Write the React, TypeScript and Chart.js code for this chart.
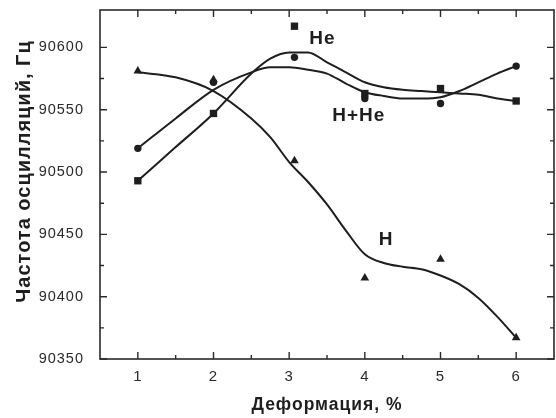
import { useEffect, useRef } from "react";
import { Chart, registerables } from "chart.js";

Chart.register(...registerables);

// Measured points (x = deformation, %)
const pointX = [1, 2, 3.07, 4, 5, 6];
const heValues = [90493, 90547, 90617, 90563, 90567, 90557];
const hHeValues = [90519, 90572, 90592, 90559, 90555, 90585];
const hValues = [90581, 90574, 90509, 90415, 90430, 90367];

// Smooth fitted curves
const curveX = [1, 1.5, 2, 2.5, 2.75, 3, 3.25, 3.5, 3.75, 4, 4.25, 4.5, 4.75, 5, 5.25, 5.5, 5.75, 6];
const heCurve = [90493, 90520, 90547, 90579, 90591, 90596, 90596, 90588, 90580, 90572, 90568, 90566, 90565, 90564, 90563, 90562, 90559, 90557];
const hHeCurve = [90519, 90543, 90566, 90580, 90584, 90584, 90582, 90579, 90571, 90564, 90561, 90559, 90559, 90560, 90565, 90572, 90579, 90585];
const hCurve = [90580, 90576, 90565, 90543, 90528, 90508, 90492, 90474, 90453, 90434, 90427, 90424, 90422, 90417, 90410, 90399, 90384, 90367];

// Axes
const xTicks = [1, 2, 3, 4, 5, 6];
const xMinorTicks = [1.5, 2.5, 3.5, 4.5, 5.5];
const yTicks = [90350, 90400, 90450, 90500, 90550, 90600];
const yMinorTicks = [90375, 90425, 90475, 90525, 90575];

// In-plot series labels (data coordinates)
const seriesLabels = ["He", "H+He", "H"];
const labelX = [3.44, 3.92, 4.28];
const labelY = [90607, 90545, 90446];

const xTitle = "Деформация, %";
const yTitle = "Частота осцилляций, Гц";

const INK = "#1e1e1e";
const FONT = "'Liberation Sans', Arial, Helvetica, sans-serif";

const framePlugin = {
  id: "frame",
  beforeDraw(chart: any) {
    chart.ctx.letterSpacing = "1px";
  },
  afterDraw(chart: any) {
    const { ctx, chartArea: a, scales } = chart;
    const xs = scales.x;
    const ys = scales.y;
    ctx.save();
    ctx.strokeStyle = "#2a2a2a";
    ctx.lineWidth = 1.6;
    ctx.strokeRect(a.left, a.top, a.right - a.left, a.bottom - a.top);
    ctx.beginPath();
    const xt = (vals: number[], len: number) =>
      vals.forEach((v) => {
        const p = xs.getPixelForValue(v);
        ctx.moveTo(p, a.bottom);
        ctx.lineTo(p, a.bottom - len);
        ctx.moveTo(p, a.top);
        ctx.lineTo(p, a.top + len);
      });
    const yt = (vals: number[], len: number) =>
      vals.forEach((v) => {
        const p = ys.getPixelForValue(v);
        ctx.moveTo(a.left, p);
        ctx.lineTo(a.left + len, p);
        ctx.moveTo(a.right, p);
        ctx.lineTo(a.right - len, p);
      });
    xt(xTicks, 7);
    xt(xMinorTicks, 4);
    yt(yTicks, 7);
    yt(yMinorTicks, 4);
    ctx.lineWidth = 1.4;
    ctx.stroke();

    // series labels
    ctx.fillStyle = INK;
    ctx.font = `bold 19px ${FONT}`;
    ctx.textAlign = "center";
    ctx.textBaseline = "middle";
    seriesLabels.forEach((t, i) => {
      ctx.fillText(t, xs.getPixelForValue(labelX[i]), ys.getPixelForValue(labelY[i]));
    });

    // y axis title
    ctx.translate(24, (a.top + a.bottom) / 2 - 13);
    ctx.rotate(-Math.PI / 2);
    ctx.font = `bold 20px ${FONT}`;
    ctx.fillText(yTitle, 0, 0);
    ctx.restore();
  },
};

const noPad = (s: any) => {
  s.paddingTop = 0;
  s.paddingBottom = 0;
  s.paddingLeft = 0;
  s.paddingRight = 0;
};

export default function App() {
  const ref = useRef<HTMLCanvasElement | null>(null);
  useEffect(() => {
    if (!ref.current) return;
    const mk = (xv: number[], yv: number[]) => xv.map((x, i) => ({ x, y: yv[i] }));
    const curve = (yv: number[]) => ({
      data: mk(curveX, yv),
      showLine: true,
      pointRadius: 0,
      borderWidth: 2,
      borderColor: INK,
      backgroundColor: INK,
      cubicInterpolationMode: "monotone" as const,
      order: 2,
    });
    const pts = (yv: number[], style: string, r: number) => ({
      data: mk(pointX, yv),
      showLine: false,
      pointStyle: style,
      pointRadius: r,
      pointBorderWidth: 0,
      borderWidth: 0,
      backgroundColor: INK,
      pointBackgroundColor: INK,
      order: 1,
    });
    const chart = new Chart(ref.current, {
      type: "scatter",
      data: {
        datasets: [
          curve(heCurve),
          curve(hHeCurve),
          curve(hCurve),
          pts(heValues, "rect", 5.2),
          pts(hHeValues, "circle", 3.7),
          pts(hValues, "triangle", 5),
        ] as any,
      },
      plugins: [framePlugin],
      options: {
        animation: false,
        responsive: false,
        devicePixelRatio: 1,
        layout: { autoPadding: false, padding: { top: 10, right: 2, left: 0, bottom: 0 } },
        plugins: { legend: { display: false }, tooltip: { enabled: false } },
        scales: {
          x: {
            type: "linear",
            min: 0.5,
            max: 6.5,
            afterBuildTicks: (s: any) => {
              s.ticks = xTicks.map((v) => ({ value: v }));
            },
            afterFit: (s: any) => {
              s.height = 59;
              noPad(s);
            },
            grid: { display: false },
            border: { display: false },
            ticks: {
              color: "#2a2a2a",
              font: { family: FONT, size: 15 },
              padding: 1,
              callback: (v: any) => String(v),
            },
            title: {
              display: true,
              text: xTitle,
              color: INK,
              font: { family: FONT, size: 17.5, weight: "bold" },
              padding: { top: 0, bottom: 2 },
            },
          },
          y: {
            type: "linear",
            min: 90350,
            max: 90630,
            afterBuildTicks: (s: any) => {
              s.ticks = yTicks.map((v) => ({ value: v }));
            },
            afterFit: (s: any) => {
              s.width = 100;
              noPad(s);
            },
            grid: { display: false },
            border: { display: false },
            ticks: {
              color: "#2a2a2a",
              font: { family: FONT, size: 14.5 },
              padding: 8,
              callback: (v: any) => String(v),
            },
          },
        },
      } as any,
    });
    return () => chart.destroy();
  }, []);
  return (
    <div style={{ position: "absolute", left: 0, top: 0, width: 556, height: 418, background: "#fff" }}>
      <canvas ref={ref} width={556} height={418} />
    </div>
  );
}
